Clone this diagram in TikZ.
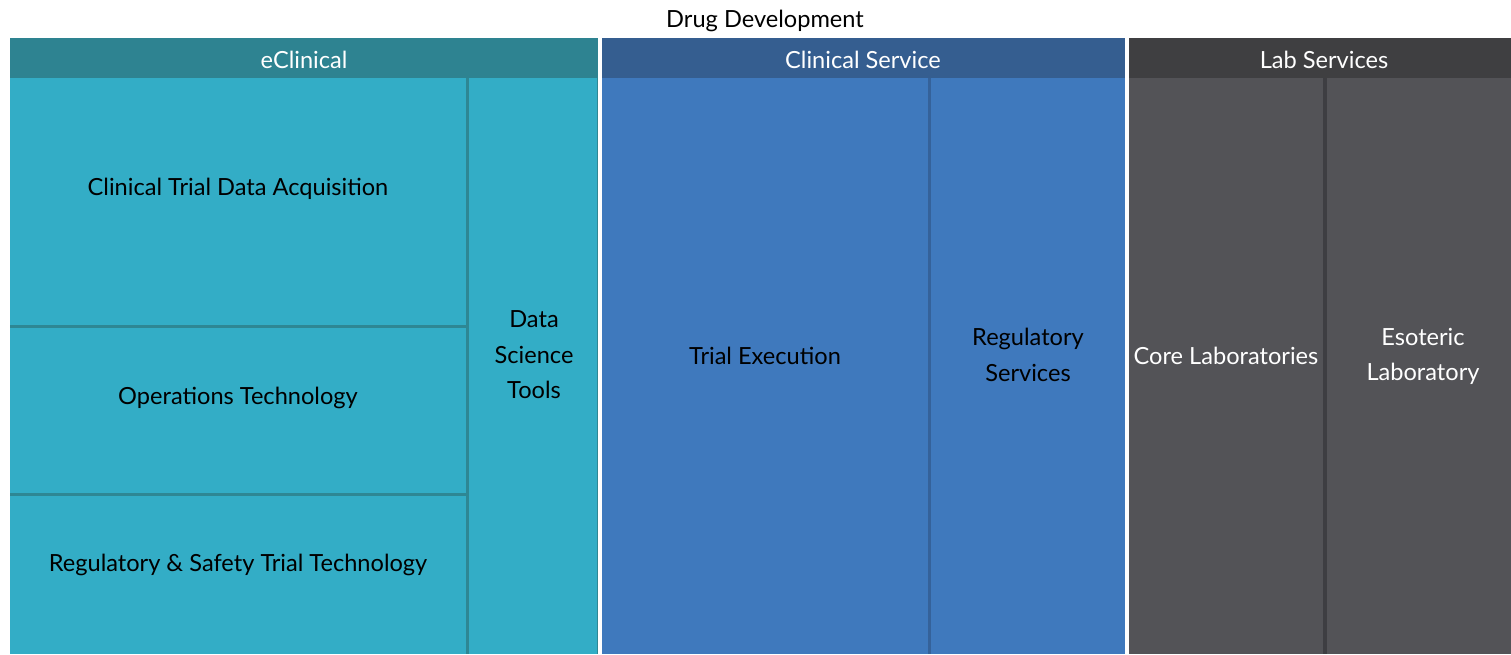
\documentclass[tikz,border=0pt]{standalone}
\usepackage{fontspec}
\setmainfont{Lato}
\definecolor{ecHead}{HTML}{2E8391}
\definecolor{ecCell}{HTML}{33ADC6}
\definecolor{ecLine}{HTML}{2E8794}
\definecolor{csHead}{HTML}{355E90}
\definecolor{csCell}{HTML}{3F79BD}
\definecolor{csLine}{HTML}{35629A}
\definecolor{lbHead}{HTML}{3F3F41}
\definecolor{lbCell}{HTML}{535357}
\definecolor{lbLine}{HTML}{3E3E42}
\begin{document}
\begin{tikzpicture}[x=1pt,y=-1pt,
  lbl/.style={inner sep=0pt,align=center,font=\fontsize{23.6}{35.5}\selectfont},
  hdr/.style={lbl,text=white},
  dark/.style={lbl,text=black},
  light/.style={lbl,text=white}]
\useasboundingbox (0,0) rectangle (1511,654);
\fill[white] (0,0) rectangle (1511,654);
% title
\node[dark] (title) at (765,21) {Drug Development};
% eClinical
\fill[ecHead] (10,38) rectangle (598,78);
\fill[ecLine] (10,78) rectangle (598,654);
\fill[ecCell] (10,78) rectangle (466,325);
\fill[ecCell] (10,328) rectangle (466,493);
\fill[ecCell] (10,496) rectangle (466,654);
\fill[ecCell] (469,78) rectangle (597,654);
\node[hdr] (ec) at (304,60) {eClinical};
\node[dark] (ctda) at (238,189) {Clinical Trial Data Acquisition};
\node[dark] (ops) at (238,398) {Operations Technology};
\node[dark] (reg) at (238,565) {Regulatory \& Safety Trial Technology};
\node[dark] (dst) at (534,355) {Data\\Science\\Tools};
% Clinical Service
\fill[csHead] (602,38) rectangle (1125,78);
\fill[csLine] (602,78) rectangle (1125,654);
\fill[csCell] (602,78) rectangle (928,654);
\fill[csCell] (931,78) rectangle (1125,654);
\node[hdr] (cs) at (863,60) {Clinical Service};
\node[dark] (te) at (765,356) {Trial Execution};
\node[dark] (rs) at (1028,355) {Regulatory\\Services};
% Lab Services
\fill[lbHead] (1129,38) rectangle (1511,78);
\fill[lbLine] (1129,78) rectangle (1511,654);
\fill[lbCell] (1129,78) rectangle (1323,654);
\fill[lbCell] (1327,78) rectangle (1511,654);
\node[hdr] (lb) at (1324,60) {Lab Services};
\node[light] (core) at (1226,356) {Core Laboratories};
\node[light] (eso) at (1423,356.5) {Esoteric\\Laboratory};
\end{tikzpicture}
\end{document}
